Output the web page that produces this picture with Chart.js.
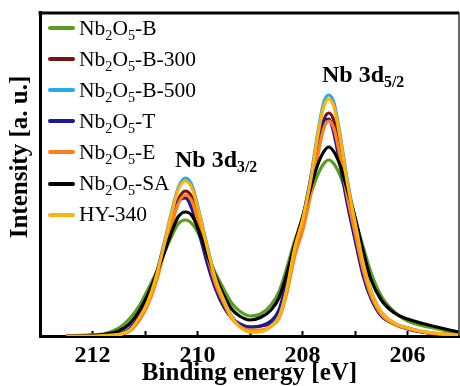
<!DOCTYPE html>
<html>
<head>
<meta charset="utf-8">
<script src="https://cdn.jsdelivr.net/npm/chart.js@4.4.0/dist/chart.umd.min.js"></script>
<style>
  html, body { margin: 0; padding: 0; background: #fff; }
  #wrap { position: relative; width: 460px; height: 386px; overflow: hidden; font-family: "Liberation Serif", "Times New Roman", serif; color: #000; }
  #chart { position: absolute; left: 0; top: 0; }
  .legend { position: absolute; left: 48px; top: 12.5px; }
  .legend .row { height: 31.1px; display: flex; align-items: center; font-size: 21.5px; white-space: nowrap; }
  .legend .swatch { width: 27px; height: 4px; margin-right: 4px; border-radius: 2px; }
  sub { font-size: 0.66em; vertical-align: -0.32em; line-height: 0; }
  .peak { position: absolute; font-weight: bold; font-size: 24px; line-height: 1; white-space: nowrap; }
  #ytitle { position: absolute; left: -91px; top: 144px; width: 220px; height: 26px; line-height: 26px;
            text-align: center; font-weight: bold; font-size: 25px; transform: rotate(-90deg); white-space: nowrap; }
</style>
</head>
<body>
<div id="wrap">
  <canvas id="chart" width="460" height="386"></canvas>
  <div id="ytitle">Intensity [a. u.]</div>
  <div class="legend" id="legend"></div>
  <div class="peak" style="left:175px; top:147px;">Nb 3d<sub>3/2</sub></div>
  <div class="peak" style="left:322px; top:62px;">Nb 3d<sub>5/2</sub></div>
</div>
<script>
// binding energy (eV) and intensity (a.u.)
const energies = [212.5, 212.1, 211.8, 211.5, 211.3, 211.1, 210.95, 210.8, 210.65, 210.5, 210.37, 210.23,
  210.1, 209.95, 209.8, 209.65, 209.5, 209.35, 209.2, 209.0, 208.8, 208.6, 208.45, 208.3, 208.15, 208.0,
  207.85, 207.72, 207.6, 207.5, 207.4, 207.28, 207.15, 207.0, 206.85, 206.7, 206.5, 206.25, 206.0, 205.6, 205.03];

const nb2o5B    = [0, 1, 2, 8, 17, 31, 46, 62, 81, 99, 112, 116, 112, 99, 80, 62, 47, 33, 25, 20, 22, 31, 44, 68, 95, 117, 141, 160, 172, 176, 172, 160, 141, 116, 90, 64, 40, 24, 15, 9, 3];
const nb2o5B300 = [0, 0, 0.4, 1.5, 5, 17, 32, 54, 83, 113, 136, 145, 138, 110, 80, 52, 34, 19, 12, 9, 10, 13, 20, 45, 82, 109, 145, 185, 215, 223, 215, 185, 145, 107, 69, 42, 22, 12, 8, 3, 1];
const nb2o5B500 = [0, 0, 0.5, 1.6, 5.5, 19, 35, 58, 90, 123, 148, 158, 150, 120, 87, 57, 37, 20, 10, 4, 4.5, 10, 20, 48, 89, 118, 157, 200, 233, 241, 233, 200, 157, 116, 75, 46, 24, 13, 8, 3.6, 1];
const nb2o5T    = [0, 0, 0.6, 2, 7, 21, 36, 59, 88, 116, 134, 138, 126, 99, 70, 46, 29, 18, 12, 9, 10, 15, 26, 54, 88, 117, 155, 192, 215, 217, 202, 170, 133, 96, 61, 38, 20, 12, 7, 3, 1];
const nb2o5E    = [0, 0, 0.4, 1.4, 5, 17, 31, 52, 80, 110, 132, 141, 134, 107, 78, 51, 33, 17.5, 10, 6, 6, 10, 17.5, 43, 80, 105, 140, 178, 207, 215, 207, 178, 140, 103, 67, 41, 21.5, 12, 7.5, 3.2, 1];
const nb2o5SA   = [0, 0.5, 1.4, 5, 12, 26, 41, 60, 81, 103, 119, 124, 120, 102, 79, 59, 41, 27, 20, 16, 18.5, 26, 38, 62, 92, 119, 147, 170, 184, 189, 184, 170, 147, 119, 86, 57, 36, 23, 17, 11, 4];
const hy340     = [0, 0, 0.5, 1.6, 5.4, 19, 34, 57, 88, 121, 146, 155, 147, 118, 85, 56, 36, 19, 9.4, 4.2, 4.4, 10, 19, 47, 88, 116, 154, 197, 229, 237, 229, 197, 154, 114, 74, 45, 24, 13, 8, 3.6, 1];

const seriesLabels = ['Nb<sub>2</sub>O<sub>5</sub>-B', 'Nb<sub>2</sub>O<sub>5</sub>-B-300', 'Nb<sub>2</sub>O<sub>5</sub>-B-500',
  'Nb<sub>2</sub>O<sub>5</sub>-T', 'Nb<sub>2</sub>O<sub>5</sub>-E', 'Nb<sub>2</sub>O<sub>5</sub>-SA', 'HY-340'];
const seriesValues = [nb2o5B, nb2o5B300, nb2o5B500, nb2o5T, nb2o5E, nb2o5SA, hy340];
const seriesColors = ['#5a9c1c', '#7a1212', '#2aa8e8', '#1a1a96', '#ff7f1e', '#000000', '#ffb20a'];

const tickValues = [212, 211, 210, 209, 208, 207, 206];
const tickLabels = ['212', '', '210', '', '208', '', '206'];

const serif = '"Liberation Serif", "Times New Roman", serif';

// html legend (needs subscripts)
const legendEl = document.getElementById('legend');
seriesLabels.forEach((name, i) => {
  const row = document.createElement('div');
  row.className = 'row';
  row.innerHTML = `<span class="swatch" style="background:${seriesColors[i]}"></span><span>${name}</span>`;
  legendEl.appendChild(row);
});

const frame = {
  id: 'frame',
  afterDraw(chart) {
    const { ctx, chartArea: a } = chart;
    ctx.save();
    ctx.strokeStyle = '#000';
    ctx.lineWidth = 3;
    ctx.beginPath();
    ctx.moveTo(a.left - 1.5, a.top + 1);
    ctx.lineTo(a.right, a.top + 1);
    ctx.stroke();
    ctx.lineWidth = 1.5;
    ctx.strokeStyle = '#333';
    ctx.beginPath();
    ctx.moveTo(a.right, a.top);
    ctx.lineTo(a.right, a.bottom);
    ctx.stroke();
    ctx.restore();
  }
};

new Chart(document.getElementById('chart').getContext('2d'), {
  type: 'line',
  data: {
    datasets: seriesValues.map((vals, i) => ({
      label: seriesLabels[i],
      data: energies.map((e, j) => ({ x: e, y: vals[j] })),
      borderColor: seriesColors[i],
      borderWidth: 3.2,
      pointRadius: 0,
      cubicInterpolationMode: 'monotone',
      fill: false,
      order: seriesValues.length - 1 - i,
    }))
  },
  options: {
    responsive: false,
    devicePixelRatio: 1,
    animation: false,
    layout: { padding: { top: 12, right: 1, left: 0, bottom: 0 } },
    plugins: { legend: { display: false }, tooltip: { enabled: false } },
    scales: {
      x: {
        type: 'linear',
        reverse: true,
        min: 205.02,
        max: 213.0,
        afterBuildTicks: s => { s.ticks = tickValues.map(v => ({ value: v })); },
        afterFit: s => { s.height = 50; },
        ticks: {
          callback: v => tickLabels[tickValues.indexOf(v)] ?? '',
          font: { family: serif, size: 24, weight: 'bold' },
          color: '#000',
          padding: 10,
          maxRotation: 0,
          autoSkip: false,
        },
        grid: { display: true, drawOnChartArea: false, drawTicks: true, tickLength: -5, tickWidth: 2, tickColor: '#000' },
        border: { display: true, color: '#000', width: 3 },
        title: {
          display: true,
          text: 'Binding energy [eV]',
          font: { family: serif, size: 25, weight: 'bold', lineHeight: 1 },
          color: '#000',
          padding: 0,
        },
      },
      y: {
        min: 0,
        max: 324,
        afterFit: s => { s.width = 40; },
        ticks: { display: false },
        grid: { display: false },
        border: { display: true, color: '#000', width: 3 },
      },
    },
  },
  plugins: [frame],
});
</script>
</body>
</html>
